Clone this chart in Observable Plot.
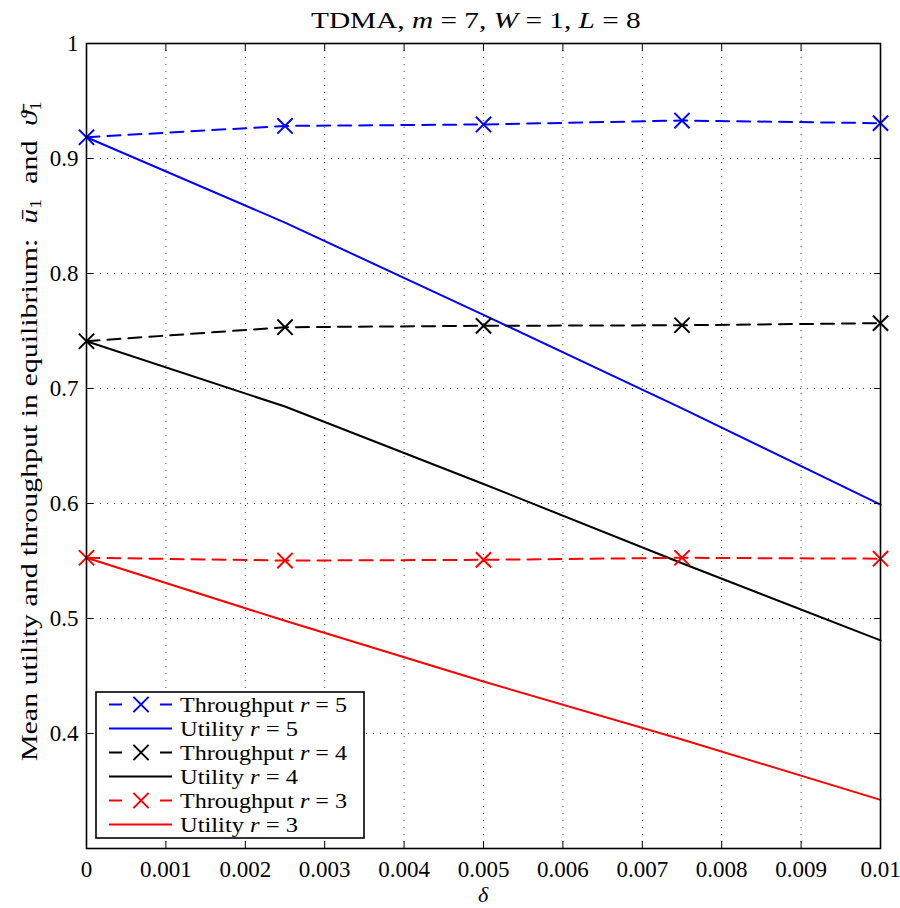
<!DOCTYPE html>
<html>
<head>
<meta charset="utf-8">
<script src="https://cdn.jsdelivr.net/npm/d3@7"></script>
<script src="https://cdn.jsdelivr.net/npm/@observablehq/plot@0.6"></script>
<style>
  html, body { margin: 0; padding: 0; background: #fff; }
</style>
</head>
<body>
<div id="chart"></div>
<script>
// ---- data ----
const deltas = [0, 0.0025, 0.005, 0.0075, 0.01];
const throughputR5 = [0.9185, 0.9283, 0.9296, 0.9330, 0.9307];
const utilityR5    = [0.9185, 0.8443, 0.7640, 0.6828, 0.5990];
const throughputR4 = [0.7411, 0.7533, 0.7545, 0.7550, 0.7568];
const utilityR4    = [0.7411, 0.6843, 0.6170, 0.5480, 0.4810];
const throughputR3 = [0.5528, 0.5504, 0.5510, 0.5528, 0.5520];
const utilityR3    = [0.5528, 0.4980, 0.4452, 0.3948, 0.3423];

const xTicks = [0, 0.001, 0.002, 0.003, 0.004, 0.005, 0.006, 0.007, 0.008, 0.009, 0.01];
const xTickLabels = ["0", "0.001", "0.002", "0.003", "0.004", "0.005", "0.006", "0.007", "0.008", "0.009", "0.01"];
const yTicks = [0.4, 0.5, 0.6, 0.7, 0.8, 0.9, 1];
const yTickLabels = ["0.4", "0.5", "0.6", "0.7", "0.8", "0.9", "1"];
const yGrid = [0.4, 0.5, 0.6, 0.7, 0.8, 0.9];
const xGrid = [0.001, 0.002, 0.003, 0.004, 0.005, 0.006, 0.007, 0.008, 0.009];

const seriesDefs = [
  {name: "Throughput", r: 5, values: throughputR5, color: "#0000ff", dashed: true},
  {name: "Utility", r: 5, values: utilityR5, color: "#0000ff", dashed: false},
  {name: "Throughput", r: 4, values: throughputR4, color: "#000000", dashed: true},
  {name: "Utility", r: 4, values: utilityR4, color: "#000000", dashed: false},
  {name: "Throughput", r: 3, values: throughputR3, color: "#ff0000", dashed: true},
  {name: "Utility", r: 3, values: utilityR3, color: "#ff0000", dashed: false}
];

const FONT = "'Liberation Serif', 'DejaVu Serif', serif";
const dash = "13,8";

const marks = [
  Plot.gridX(xGrid, {stroke: "#222", strokeOpacity: 0.8, strokeDasharray: "1,6", strokeWidth: 1}),
  Plot.gridY(yGrid, {stroke: "#222", strokeOpacity: 0.8, strokeDasharray: "1,6", strokeWidth: 1})
];
for (const s of seriesDefs) {
  const rows = deltas.map((d, i) => ({x: d, y: s.values[i]}));
  marks.push(Plot.line(rows, {x: "x", y: "y", stroke: s.color, strokeWidth: 2,
    strokeDasharray: s.dashed ? dash : null}));
  if (s.dashed) {
    marks.push(Plot.dot(rows, {x: "x", y: "y", symbol: "times", r: 7, stroke: s.color, strokeWidth: 2}));
  }
}
marks.push(
  Plot.frame({stroke: "#000", strokeWidth: 1.6}),
  Plot.axisX(xTicks, {anchor: "bottom", tickSize: -7, tickPadding: 19, fontSize: 23,
    tickFormat: (d, i) => xTickLabels[i], label: null}),
  Plot.axisX(xTicks, {anchor: "top", tickSize: -7, tickFormat: () => "", label: null}),
  Plot.axisY(yTicks, {anchor: "left", tickSize: -7, tickPadding: 15, fontSize: 23,
    tickFormat: (d, i) => yTickLabels[i], label: null}),
  Plot.axisY(yTicks, {anchor: "right", tickSize: -7, tickFormat: () => "", label: null})
);

const W = 900, H = 908;
const mL = 86, mR = 20, mT = 43, mB = 60;
const chart = Plot.plot({
  width: W, height: H,
  marginLeft: mL, marginRight: mR, marginTop: mT, marginBottom: mB,
  x: {domain: [0, 0.01]},
  y: {domain: [0.3, 1]},
  style: {fontFamily: FONT, fontSize: "22px", color: "#000", background: "#fff"},
  marks
});
document.getElementById("chart").appendChild(chart);

// ---- annotations: title, axis labels, legend ----
const svg = d3.select(chart);
const cx = mL + (W - mL - mR) / 2;

// fit a text element horizontally (in its own frame) to a target width
function fitText(sel, x0, y0, target, rotate, anchor) {
  const w = sel.node().getComputedTextLength();
  const k = target / w;
  const start = anchor === "middle" ? -target / 2 : 0;
  sel.attr("text-anchor", "start").attr("x", 0).attr("y", 0)
     .attr("transform", `translate(${x0},${y0})${rotate ? " rotate(-90)" : ""} translate(${start},0) scale(${k},1)`);
}

// title
const title = svg.append("text")
  .attr("font-family", FONT).attr("font-size", 24).attr("fill", "#000").attr("text-anchor", "start");
title.append("tspan").text("TDMA, ");
title.append("tspan").attr("font-style", "italic").text("m");
title.append("tspan").text(" = 7, ");
title.append("tspan").attr("font-style", "italic").text("W");
title.append("tspan").text(" = 1, ");
title.append("tspan").attr("font-style", "italic").text("L");
title.append("tspan").text(" = 8");
fitText(title, 476, 28, 330, false, "middle");

// x label
svg.append("text").attr("x", cx).attr("y", 902).attr("text-anchor", "middle")
  .attr("font-family", FONT).attr("font-size", 22).attr("font-style", "italic").attr("fill", "#000").text("δ");

// y label
const yl = svg.append("text")
  .attr("font-family", FONT).attr("font-size", 24).attr("fill", "#000").attr("text-anchor", "start");
yl.append("tspan").text("Mean utility and throughput in equilibrium:  ");
yl.append("tspan").attr("font-style", "italic").text("ū");
yl.append("tspan").attr("font-size", 16).attr("dy", 4).text("1");
yl.append("tspan").attr("dy", -4).text("  and  ");
yl.append("tspan").attr("font-style", "italic").text("ϑ̄");
yl.append("tspan").attr("font-size", 16).attr("dy", 4).text("1");
fitText(yl, 37, 431, 660, true, "middle");

// legend
const lg = svg.append("g");
const lx = 96, ly = 692, lw = 268, lh = 146, rowH = 24;
lg.append("rect").attr("x", lx).attr("y", ly).attr("width", lw).attr("height", lh)
  .attr("fill", "#fff").attr("stroke", "#000").attr("stroke-width", 1.6);
seriesDefs.forEach((s, i) => {
  const y = ly + 12.5 + i * rowH;
  if (s.dashed) {
    lg.append("line").attr("x1", 109).attr("x2", 122).attr("y1", y).attr("y2", y)
      .attr("stroke", s.color).attr("stroke-width", 2);
    lg.append("line").attr("x1", 160).attr("x2", 172).attr("y1", y).attr("y2", y)
      .attr("stroke", s.color).attr("stroke-width", 2);
    lg.append("path").attr("d", d3.symbol(d3.symbolTimes, Math.PI * 49)())
      .attr("transform", `translate(141,${y})`).attr("fill", "none")
      .attr("stroke", s.color).attr("stroke-width", 2);
  } else {
    lg.append("line").attr("x1", 109).attr("x2", 172).attr("y1", y).attr("y2", y)
      .attr("stroke", s.color).attr("stroke-width", 2);
  }
  const t = lg.append("text")
    .attr("font-family", FONT).attr("font-size", 21).attr("fill", "#000");
  t.append("tspan").text(s.name + " ");
  t.append("tspan").attr("font-style", "italic").text("r");
  t.append("tspan").text(" = " + s.r);
  fitText(t, 180, y + 7, s.name === "Throughput" ? 167 : 118, false, "start");
});
</script>
</body>
</html>
